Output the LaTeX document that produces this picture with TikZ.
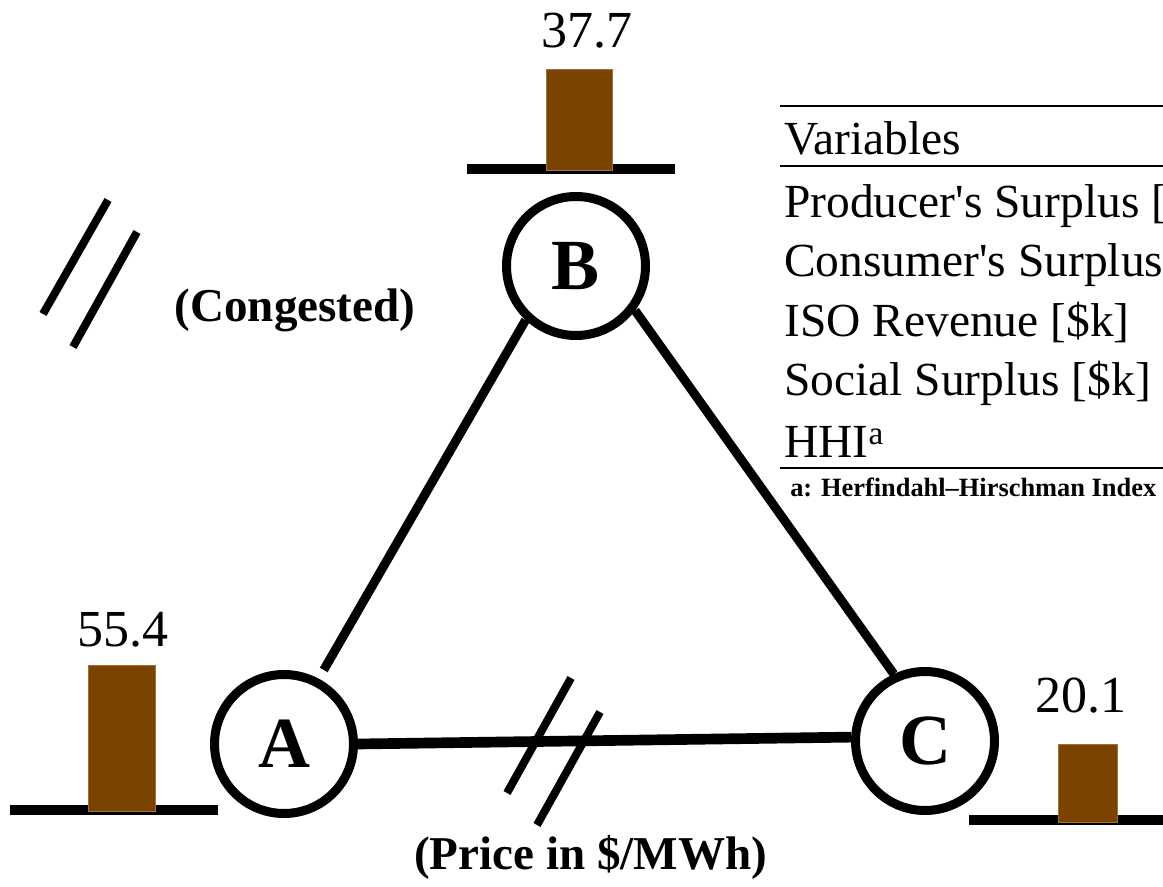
\documentclass[tikz,border=0pt]{standalone}
\usepackage{fontspec}
\setmainfont{Liberation Serif}
% straight apostrophes in the table rows
\newfontfamily\tablefont{Liberation Serif}[Ligatures=TeXOff]
\definecolor{barbrown}{RGB}{122,67,0}
\newcommand{\pxfont}[1]{\fontsize{#1}{#1}\selectfont}

\begin{document}
\begin{tikzpicture}[
  x=0.75pt, y=-0.75pt,
  station/.style={circle, draw, line width=6.75pt, minimum size=104.25pt,
    inner sep=0pt, font=\bfseries\pxfont{54pt}},
  link/.style={line width=6.75pt},
  busline/.style={line width=7.5pt},
  pricebar/.style={fill=barbrown, draw=barbrown!75!white, line width=0.6pt},
  pricelabel/.style={anchor=base, inner sep=0pt, font=\pxfont{39pt}},
  slashmark/.style={line width=6pt},
  rowtext/.style={anchor=base west, inner sep=0pt, font=\tablefont\pxfont{35.6pt}},
  tablerule/.style={line width=2pt},
  boldnote/.style={anchor=base, inner sep=0pt, font=\bfseries\pxfont{35.3pt}},
]
\path[use as bounding box] (0,0) rectangle (1163,887);
\clip (0,0) rectangle (1163,887);

% network buses
\node[station] (A) at (284,744) {A};
\node[station] (B) at (576,266) {B};
\node[station] (C) at (925,741) {C};

% transmission lines
\draw[link, shorten <=7.5pt] (A.62) -- (B.227.7);
\draw[link] (B.323.3) -- (C.115.2);
\draw[link, line width=8pt] (A.0.8) -- (C.177.6);

% congestion marks on line A--C
\draw[slashmark] (571,678) -- (507,793);
\draw[slashmark] (600,712) -- (537,825);

% legend for the congestion mark
\draw[slashmark] (108,200) -- (43,314);
\draw[slashmark] (137,232) -- (73,347);
\node[boldnote] (cong) at (295,322) {(Congested)};

% nodal prices
\draw[busline] (10,809.5) -- (218,809.5);
\draw[pricebar] (88,665) rectangle (155,811);
\node[pricelabel] (pA) at (123,646) {55.4};

\draw[busline] (467,169) -- (675,169);
\draw[pricebar] (546,69) rectangle (612,170);
\node[pricelabel] (pB) at (587,48) {37.7};

\draw[busline] (969,820) -- (1163,820);
\draw[pricebar] (1058,744) rectangle (1117,822);
\node[pricelabel] (pC) at (1081,712) {20.1};

\node[boldnote] (unit) at (590.5,869) {(Price in \$/MWh)};

% results table
\draw[tablerule] (780,106) -- (1163,106);
\draw[tablerule] (780,166) -- (1163,166);
\draw[tablerule] (780,468) -- (1163,468);
\node[rowtext] (r0) at (784,155) {Variables};
\node[rowtext] (r1) at (784,218) {Producer's Surplus [\$k]};
\node[rowtext] (r2) at (784,277) {Consumer's Surplus [\$k]};
\node[rowtext] (r3) at (784,337) {ISO Revenue [\$k]};
\node[rowtext] (r4) at (784,396) {Social Surplus [\$k]};
\node[rowtext] (r5) at (784,457) {HHI\textsuperscript{a}};
\node[anchor=base west, inner sep=0pt, font=\bfseries\pxfont{19.8pt}] (fn)
  at (790,496) {a: Herfindahl–Hirschman Index};
\end{tikzpicture}
\end{document}
